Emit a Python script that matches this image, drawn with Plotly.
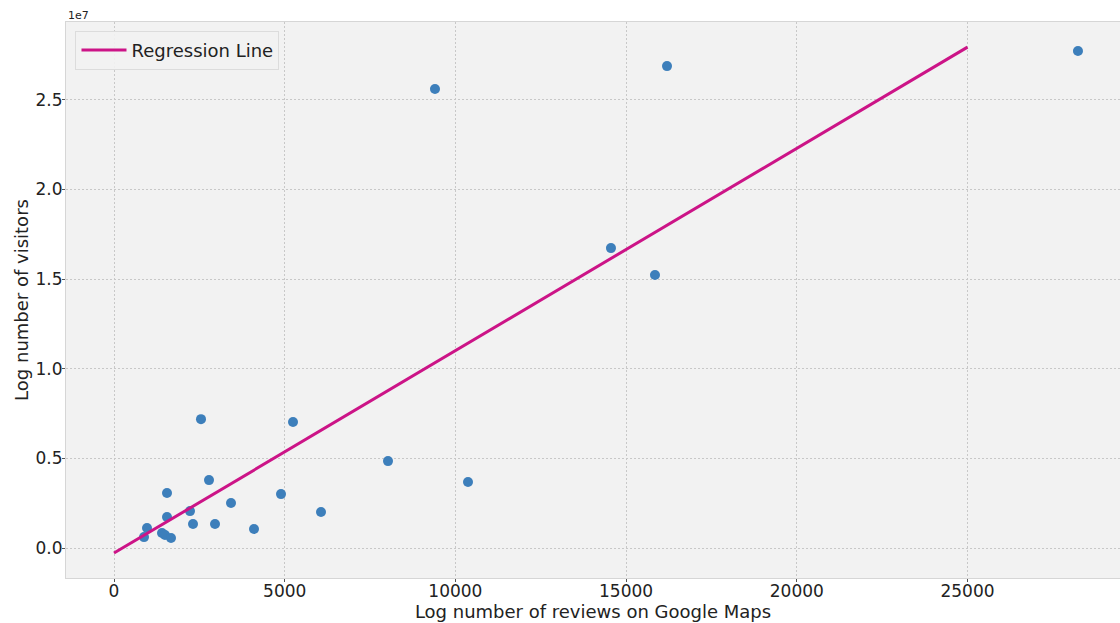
import plotly.graph_objects as go

# Data
reviews = [28236, 16198, 9402, 14557, 15846, 2548, 5243, 8026, 10369, 2783,
           1552, 4892, 3427, 6063, 2226, 1552, 2314, 2958, 4101, 967,
           879, 1406, 1494, 1670]
visitors = [2.772e7, 2.688e7, 2.560e7, 1.673e7, 1.523e7, 0.719e7, 0.703e7, 0.485e7, 0.368e7, 0.379e7,
            0.307e7, 0.301e7, 0.251e7, 0.201e7, 0.206e7, 0.173e7, 0.134e7, 0.134e7, 0.106e7, 0.112e7,
            0.061e7, 0.084e7, 0.073e7, 0.056e7]
reg_x = [0, 25000]
reg_y = [-0.028e7, 2.794e7]

x_ticks = [0, 5000, 10000, 15000, 20000, 25000]
x_tick_labels = ["0", "5000", "10000", "15000", "20000", "25000"]
y_ticks = [0, 0.5e7, 1.0e7, 1.5e7, 2.0e7, 2.5e7]
y_tick_labels = ["0.0", "0.5", "1.0", "1.5", "2.0", "2.5"]

FONT = "DejaVu Sans"

fig = go.Figure()
fig.add_trace(go.Scatter(
    x=reviews, y=visitors, mode="markers", showlegend=False,
    marker=dict(color="#3d7fbb", size=10, line=dict(width=0)),
))
fig.add_trace(go.Scatter(
    x=reg_x, y=reg_y, mode="lines", name="Regression Line",
    line=dict(color="#cc1487", width=3),
))

axis_common = dict(
    showgrid=True, gridcolor="#c8c8c8", griddash="2px,2px", gridwidth=1,
    zeroline=False, showline=True, linecolor="#d6d6d6", linewidth=1, mirror=True,
    ticks="outside", ticklen=3, tickcolor="#555555", tickwidth=1,
    tickfont=dict(family=FONT, size=17, color="#222222"),
)

fig.update_layout(
    width=1120, height=623,
    margin=dict(l=66, r=0, t=22, b=45),
    paper_bgcolor="white", plot_bgcolor="#f2f2f2",
    font=dict(family=FONT, color="#222222"),
    xaxis=dict(
        range=[-1406, 29467], tickvals=x_ticks, ticktext=x_tick_labels,
        ticklabelstandoff=-5,
        title=dict(text="Log number of reviews on Google Maps", font=dict(family=FONT, size=18), standoff=0),
        **axis_common,
    ),
    yaxis=dict(
        range=[-0.167e7, 2.934e7], tickvals=y_ticks, ticktext=y_tick_labels,
        ticklabelstandoff=-4,
        title=dict(text="Log number of visitors", font=dict(family=FONT, size=18), standoff=2),
        **axis_common,
    ),
    legend=dict(
        x=0.009, y=0.984, xanchor="left", yanchor="top",
        bgcolor="rgba(242,242,242,0.9)", bordercolor="#dcdcdc", borderwidth=1,
        font=dict(family=FONT, size=18, color="#222222"),
        itemwidth=45,
    ),
    annotations=[dict(
        text="1e7", xref="paper", yref="paper", x=0, y=1, xanchor="left", yanchor="bottom",
        showarrow=False, font=dict(family=FONT, size=11, color="#222222"), yshift=-2,
    )],
)

fig.write_html("out.html")
